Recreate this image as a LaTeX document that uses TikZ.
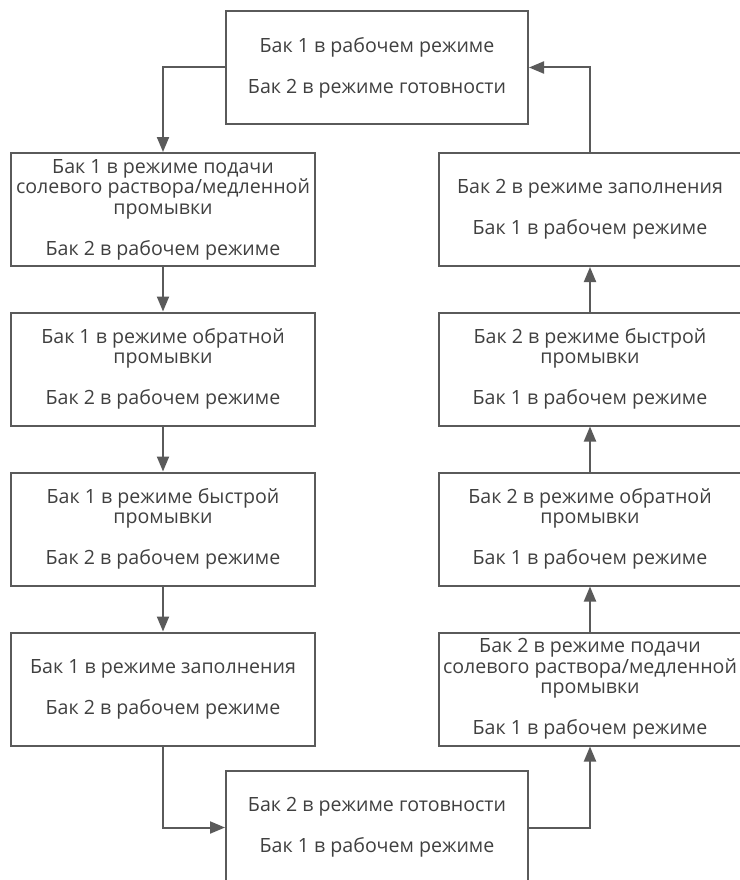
\documentclass[tikz,border=0pt]{standalone}
\usepackage{fontspec}
\setmainfont{Open Sans}
\usetikzlibrary{arrows.meta}
\definecolor{linecol}{HTML}{5A5A5A}
\definecolor{txtcol}{HTML}{404040}
\tikzset{
  stbox/.style={draw=linecol, line width=2pt, minimum height=113pt, align=center,
    text=txtcol, font=\fontsize{19.6}{20.5}\selectfont, inner sep=0pt},
  lbox/.style={stbox, minimum width=304pt},
  rbox/.style={stbox, minimum width=302pt},
  conn/.style={draw=linecol, line width=2pt, -{Triangle[length=15pt,width=12pt]}}
}
\begin{document}
\begin{tikzpicture}[x=1pt,y=-1pt]
\useasboundingbox (0,0) rectangle (739,880);
\fill[white] (0,0) rectangle (739,880);
\node[rbox] (top) at (377,67.5) {Бак 1 в рабочем режиме\\[20.5pt]Бак 2 в режиме готовности};
\node[lbox] (L1) at (163,209.5) {Бак 1 в режиме подачи\\солевого раствора/медленной\\промывки\\[20.5pt]Бак 2 в рабочем режиме};
\node[lbox] (L2) at (163,369) {Бак 1 в режиме обратной\\промывки\\[20.5pt]Бак 2 в рабочем режиме};
\node[lbox] (L3) at (163,529) {Бак 1 в режиме быстрой\\промывки\\[20.5pt]Бак 2 в рабочем режиме};
\node[lbox] (L4) at (163,689) {Бак 1 в режиме заполнения\\[20.5pt]Бак 2 в рабочем режиме};
\node[rbox] (bot) at (377,827.5) {Бак 2 в режиме готовности\\[20.5pt]Бак 1 в рабочем режиме};
\node[rbox] (R4) at (590,689) {Бак 2 в режиме подачи\\солевого раствора/медленной\\промывки\\[20.5pt]Бак 1 в рабочем режиме};
\node[rbox] (R3) at (590,529) {Бак 2 в режиме обратной\\промывки\\[20.5pt]Бак 1 в рабочем режиме};
\node[rbox] (R2) at (590,369) {Бак 2 в режиме быстрой\\промывки\\[20.5pt]Бак 1 в рабочем режиме};
\node[rbox] (R1) at (590,209.5) {Бак 2 в режиме заполнения\\[20.5pt]Бак 1 в рабочем режиме};
\draw[conn] (top.west) -| (L1.north);
\draw[conn] (L1) -- (L2);
\draw[conn] (L2) -- (L3);
\draw[conn] (L3) -- (L4);
\draw[conn] (L4.south) |- (bot.west);
\draw[conn] (bot.east) -| (R4.south);
\draw[conn] (R4) -- (R3);
\draw[conn] (R3) -- (R2);
\draw[conn] (R2) -- (R1);
\draw[conn] (R1.north) |- (top.east);
\end{tikzpicture}
\end{document}
